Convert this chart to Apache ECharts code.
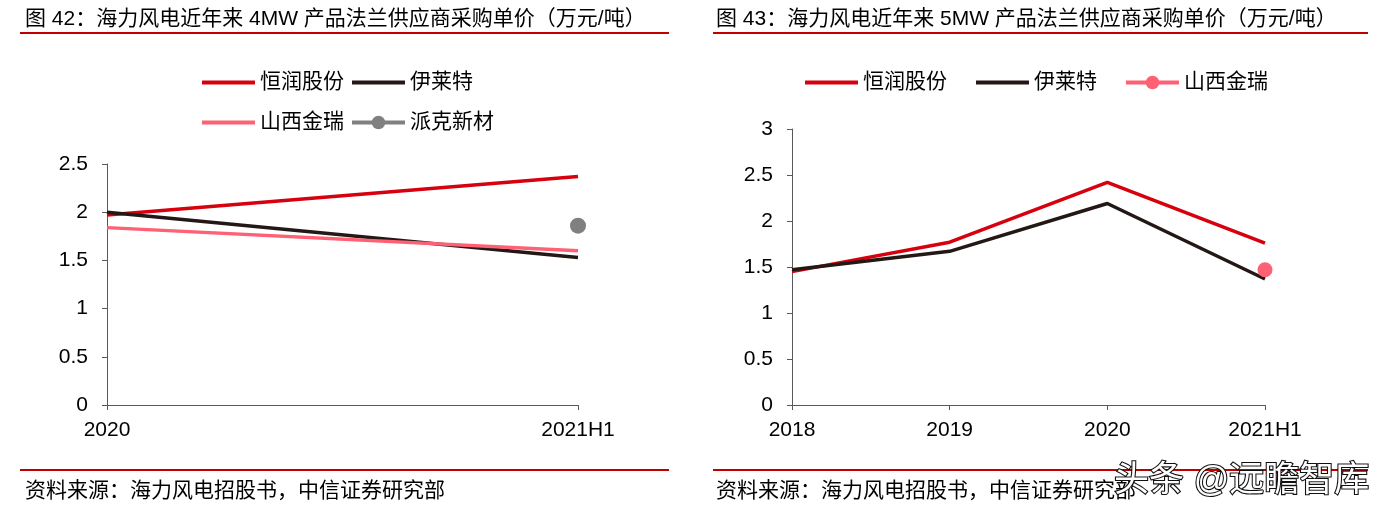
<!DOCTYPE html>
<html><head><meta charset="utf-8">
<script src="https://cdn.jsdelivr.net/npm/echarts@6/dist/echarts.min.js"></script>
<style>html,body{margin:0;padding:0;background:#fff}#c{width:1383px;height:514px}</style>
</head><body><div id="c"></div>
<script>
const categories4 = ['2020', '2021H1'];
const hengrun4 = [1.97, 2.37];
const yilaite4 = [2.0, 1.53];
const jinrui4 = [1.84, 1.60];
const paike4 = [null, 1.86];

const categories5 = ['2018', '2019', '2020', '2021H1'];
const hengrun5 = [1.45, 1.77, 2.42, 1.76];
const yilaite5 = [1.47, 1.67, 2.19, 1.37];
const jinrui5 = [null, null, null, 1.47];

const yTicks4 = [0, 0.5, 1, 1.5, 2, 2.5];
const yTicks5 = [0, 0.5, 1, 1.5, 2, 2.5, 3];

const FONT = '"Liberation Sans", "Noto Sans CJK SC", sans-serif';
const RED = '#D7000F', BLACK = '#231815', PINK = '#FF6074', GRAY = '#808080';
const axisColor = '#595959';
const FS = 21;

const chart = echarts.init(document.getElementById('c'));

function xAxis(idx, cats) {
  return {
    type: 'category', gridIndex: idx, data: cats, boundaryGap: false,
    axisLine: { lineStyle: { color: axisColor, width: 1 } },
    axisTick: { show: true, length: 5, alignWithLabel: true, lineStyle: { color: axisColor } },
    axisLabel: { color: '#000', fontSize: FS, fontFamily: FONT, margin: 15 },
    splitLine: { show: false }
  };
}
function yAxis(idx, ticks) {
  return {
    type: 'value', gridIndex: idx, min: ticks[0], max: ticks[ticks.length - 1], interval: 0.5,
    axisLine: { show: true, lineStyle: { color: axisColor, width: 1 } },
    axisTick: { show: true, length: 5, lineStyle: { color: axisColor } },
    axisLabel: { color: '#000', fontSize: FS, fontFamily: FONT, margin: 19 },
    splitLine: { show: false }
  };
}
function lineSeries(name, data, color, xi) {
  return {
    name, type: 'line', data, xAxisIndex: xi, yAxisIndex: xi,
    symbol: 'none', lineStyle: { color, width: 3.5 }, itemStyle: { color, opacity: 0 },
    silent: true, animation: false
  };
}
function dotSeries(name, data, color, xi, size) {
  return {
    name, type: 'line', data, xAxisIndex: xi, yAxisIndex: xi,
    symbol: 'circle', symbolSize: size, showSymbol: true,
    lineStyle: { color, width: 3.5 }, itemStyle: { color }, animation: false, z: 5
  };
}

const titleStyle = { fontSize: FS, fontFamily: FONT, color: '#000', fontWeight: 'normal' };
const legendText = { fontSize: FS, fontFamily: FONT, color: '#000' };
const legendCommon = { itemWidth: 53, itemHeight: 17, textStyle: legendText, selectedMode: false,
  lineStyle: { width: 4 } };

chart.setOption({
  backgroundColor: '#fff',
  animation: false,
  title: [
    { text: '图 42：海力风电近年来 4MW 产品法兰供应商采购单价（万元/吨）', left: 20, top: 4, textStyle: titleStyle },
    { text: '图 43：海力风电近年来 5MW 产品法兰供应商采购单价（万元/吨）', left: 711, top: 4, textStyle: titleStyle },
    { text: '资料来源：海力风电招股书，中信证券研究部', left: 20, top: 476, textStyle: titleStyle },
    { text: '资料来源：海力风电招股书，中信证券研究部', left: 711, top: 476, textStyle: titleStyle }
  ],
  graphic: [
    { type: 'rect', shape: { x: 20, y: 32, width: 649, height: 2 }, style: { fill: '#C00000' } },
    { type: 'rect', shape: { x: 713, y: 32, width: 655, height: 2 }, style: { fill: '#C00000' } },
    { type: 'rect', shape: { x: 20, y: 469, width: 649, height: 2 }, style: { fill: '#C00000' } },
    { type: 'rect', shape: { x: 713, y: 469, width: 655, height: 2 }, style: { fill: '#C00000' } },
    { type: 'text', left: 1113, top: 463, z: 100,
      style: { text: '头条 @远瞻智库', fontSize: 35, fontFamily: FONT, fill: '#fff', stroke: '#111', lineWidth: 2.2 } }
  ],
  legend: [
    Object.assign({ data: ['恒润股份', '伊莱特'], left: 195, top: 67, itemGap: 6 }, legendCommon),
    Object.assign({ data: ['山西金瑞', '派克新材'], left: 195, top: 107, itemGap: 6 }, legendCommon),
    Object.assign({ data: ['恒润股份 ', '伊莱特 ', '山西金瑞 '], left: 798, top: 67, itemGap: 27,
      formatter: n => n.trim() }, legendCommon)
  ],
  grid: [
    { left: 107, top: 164, width: 471, height: 241 },
    { left: 792, top: 129, width: 473, height: 276 }
  ],
  xAxis: [xAxis(0, categories4), xAxis(1, categories5)],
  yAxis: [yAxis(0, yTicks4), yAxis(1, yTicks5)],
  series: [
    lineSeries('恒润股份', hengrun4, RED, 0),
    lineSeries('伊莱特', yilaite4, BLACK, 0),
    lineSeries('山西金瑞', jinrui4, PINK, 0),
    dotSeries('派克新材', paike4, GRAY, 0, 16),
    lineSeries('恒润股份 ', hengrun5, RED, 1),
    lineSeries('伊莱特 ', yilaite5, BLACK, 1),
    dotSeries('山西金瑞 ', jinrui5, PINK, 1, 15)
  ]
});
</script></body></html>
